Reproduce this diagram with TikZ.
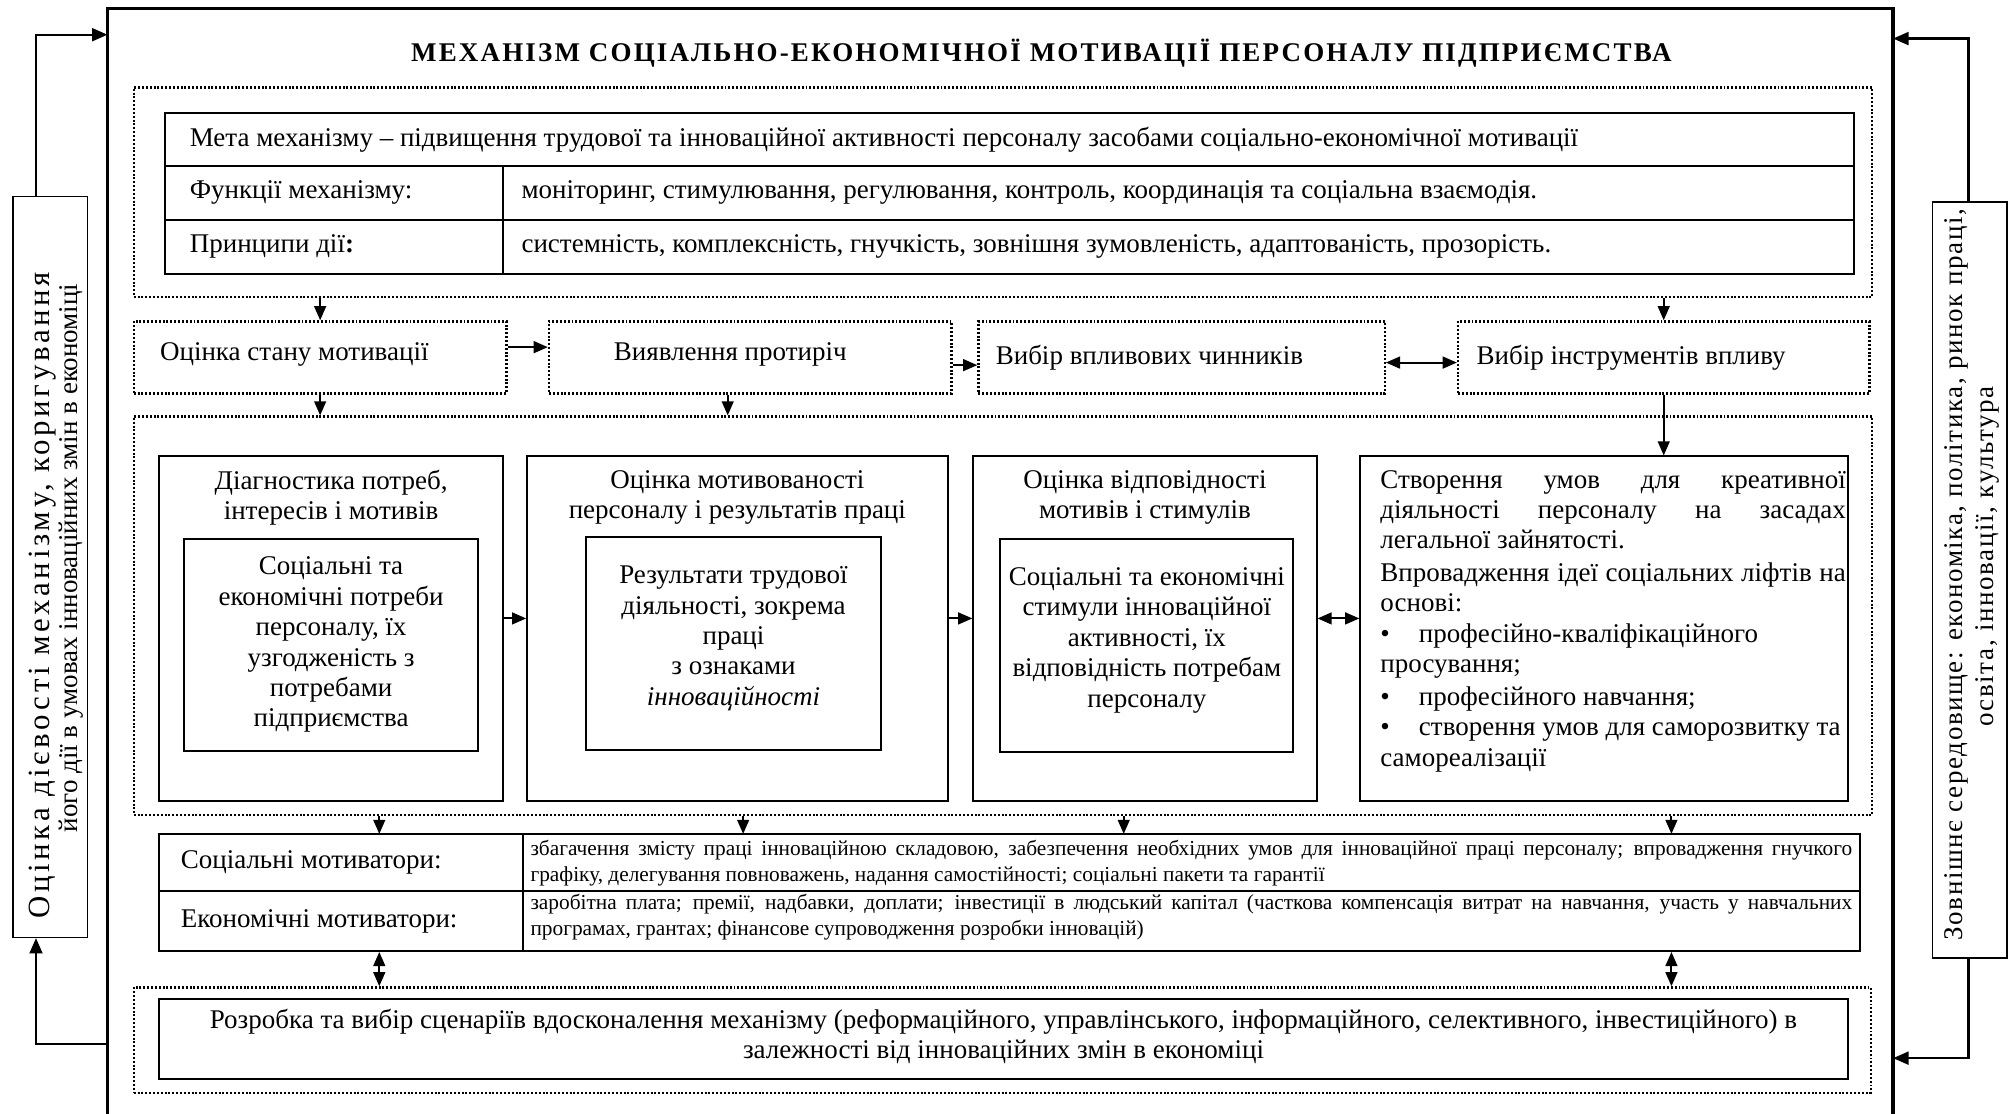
\documentclass[tikz,border=0pt]{standalone}
\usepackage{fontspec}
\setmainfont{Liberation Serif}
\newfontfamily\titlefont{Liberation Serif}[LetterSpace=8]
\newfontfamily\sidefont{Liberation Serif}[LetterSpace=6]
\newfontfamily\sidewidefont{Liberation Serif}[LetterSpace=12]
\usetikzlibrary{fit,arrows.meta}

\begin{document}
\begin{tikzpicture}[x=0.5pt,y=-0.5pt,
  frameline/.style={line width=1.3pt},
  solidbox/.style={draw, line width=0.75pt, inner sep=0pt},
  thinbox/.style={draw, line width=0.6pt, inner sep=0pt},
  dotbox/.style={draw, line width=0.9pt, dash pattern=on 0.75pt off 0.75pt, inner sep=0pt},
  arr/.style={line width=0.75pt, -{Triangle[length=5.5pt,width=4.6pt]}},
  darr/.style={line width=0.75pt, {Triangle[length=5.5pt,width=4.6pt]}-{Triangle[length=5.5pt,width=4.6pt]}},
  sidearr/.style={line width=0.9pt, -{Triangle[length=6pt,width=5pt]}},
  txt/.style={inner sep=0pt, font=\fontsize{10.5}{11.8}\selectfont},
  small/.style={inner sep=0pt, font=\fontsize{8.3}{10}\selectfont},
  side/.style={inner sep=0pt, rotate=90, font=\sidefont\fontsize{10.5}{12}\selectfont},
]
\useasboundingbox (0,0) rectangle (1568,866);

% guide columns and rows for the connectors
\coordinate (gx0) at (566,0);
\coordinate (gx1) at (295,0);
\coordinate (gx2) at (578,0);
\coordinate (gx3) at (874,0);
\coordinate (gx4) at (1300,0);
\coordinate (lx) at (28,0);
\coordinate (rx) at (1531,0);
\coordinate (ly1) at (0,27);
\coordinate (ly2) at (0,812);
\coordinate (ry1) at (0,30);
\coordinate (ry2) at (0,823);

% outer frame, open at the bottom
\node[inner sep=0pt, fit={(84,7)(1472,866)}] (frame) {};
\draw[frameline] (frame.south west) -- (frame.north west) -- (frame.north east) -- (frame.south east);

\node[inner sep=0pt, font=\titlefont\bfseries\fontsize{10.5}{12}\selectfont] (title) at (810,41)
  {МЕХАНІЗМ СОЦІАЛЬНО-ЕКОНОМІЧНОЇ МОТИВАЦІЇ ПЕРСОНАЛУ ПІДПРИЄМСТВА};

% goal, functions, principles
\node[dotbox, fit={(104,68)(1456,231)}] (goalzone) {};
\node[solidbox, fit={(128,88)(1442,129)}] (meta) {};
\node[solidbox, fit={(128,129)(391,171)}] (funl) {};
\node[solidbox, fit={(391,129)(1442,171)}] (funr) {};
\node[solidbox, fit={(128,171)(391,213)}] (prl) {};
\node[solidbox, fit={(391,171)(1442,213)}] (prr) {};
\node[txt, anchor=west] (metat) at ([xshift=10pt]meta.west)
  {Мета механізму – підвищення трудової та інноваційної активності персоналу засобами соціально-економічної мотивації};
\node[txt, anchor=west] (funlt) at ([xshift=10pt]funl.west) {Функції механізму:};
\node[txt, anchor=west] (funrt) at ([xshift=7.5pt]funr.west)
  {моніторинг, стимулювання, регулювання, контроль, координація та соціальна взаємодія.};
\node[txt, anchor=west] (prlt) at ([xshift=10pt]prl.west) {Принципи дії\textbf{:}};
\node[txt, anchor=west] (prrt) at ([xshift=7.5pt]prr.west)
  {системність, комплексність, гнучкість, зовнішня зумовленість, адаптованість, прозорість.};

% stages
\node[dotbox, fit={(104,250)(394,306)}] (st1) {};
\node[dotbox, fit={(427,250)(740,306)}] (st2) {};
\node[dotbox, fit={(761,250)(1077,306)}] (st3) {};
\node[dotbox, fit={(1134,250)(1454,306)}] (st4) {};
\node[txt, anchor=west] (st1t) at ([xshift=10.5pt,yshift=1pt]st1.west) {Оцінка стану мотивації};
\node[txt, anchor=west] (st2t) at ([xshift=25.5pt,yshift=1pt]st2.west) {Виявлення протиріч};
\node[txt, anchor=west] (st3t) at ([xshift=7pt]st3.west) {Вибір впливових чинників};
\node[txt, anchor=west] (st4t) at ([xshift=7.5pt]st4.west) {Вибір інструментів впливу};

% diagnostics zone
\node[dotbox, fit={(104,324)(1456,634)}] (czone) {};
\node[solidbox, fit={(124,355)(391,623)}] (d1) {};
\node[solidbox, fit={(410,355)(737,623)}] (d2) {};
\node[solidbox, fit={(757,355)(1024,623)}] (d3) {};
\node[solidbox, fit={(1058,355)(1437,623)}] (d4) {};
\node[solidbox, fit={(143,419)(372,584)}] (e1) {};
\node[solidbox, fit={(456,418)(685,583)}] (e2) {};
\node[solidbox, fit={(778,419)(1006,585)}] (e3) {};

\node[txt, align=center, anchor=north] (d1h) at ([yshift=-5.5pt]d1.north) {Діагностика потреб,\\інтересів і мотивів};
\node[txt, align=center, anchor=north] (d2h) at ([yshift=-5.5pt]d2.north) {Оцінка мотивованості\\персоналу і результатів праці};
\node[txt, align=center, anchor=north] (d3h) at ([yshift=-5.5pt]d3.north) {Оцінка відповідності\\мотивів і стимулів};

\node[txt, align=center] (e1t) at (e1.center)
  {Соціальні та\\економічні потреби\\персоналу, їх\\узгодженість з\\потребами\\підприємства};
\node[txt, align=center] (e2t) at ([yshift=2pt]e2.center)
  {Результати трудової\\діяльності, зокрема\\праці\\з ознаками\\\textit{інноваційності}};
\node[txt, align=center] (e3t) at ([yshift=2pt]e3.center)
  {Соціальні та економічні\\стимули інноваційної\\активності, їх\\відповідність потребам\\персоналу};

\node[txt, align=left, anchor=north west] (d4t) at ([xshift=8pt,yshift=-5.5pt]d4.north west)
  {\makebox[181pt][s]{Створення умов для креативної}\\
   \makebox[181pt][s]{діяльності персоналу на засадах}\\
   легальної зайнятості.\\[1pt]
   \makebox[181pt][s]{Впровадження ідеї соціальних ліфтів на}\\
   основі:\\
   \makebox[15pt][l]{\textbullet}професійно-кваліфікаційного\\
   просування;\\[1pt]
   \makebox[15pt][l]{\textbullet}професійного навчання;\\
   \makebox[15pt][l]{\textbullet}створення умов для саморозвитку та\\
   самореалізації};

% motivators table
\node[inner sep=0pt, fit={(124,649)(1447,740)}] (mot) {};
\node[solidbox, fit={(124,649)(407,693)}] (soc1) {};
\node[solidbox, fit={(407,649)(1447,693)}] (soc2) {};
\node[solidbox, fit={(124,693)(407,740)}] (eco1) {};
\node[solidbox, fit={(407,693)(1447,740)}] (eco2) {};
\node[txt, anchor=west] (soc1t) at ([xshift=8.5pt]soc1.west) {Соціальні мотиватори:};
\node[txt, anchor=west] (eco1t) at ([xshift=8.5pt]eco1.west) {Економічні мотиватори:};
\node[small, align=left, anchor=north west] (soc2t) at ([xshift=3pt,yshift=-2.5pt]soc2.north west)
  {\makebox[514pt][s]{збагачення змісту праці інноваційною складовою, забезпечення необхідних умов для інноваційної праці персоналу; впровадження гнучкого}\\
   графіку, делегування повноважень, надання самостійності; соціальні пакети та гарантії};
\node[small, align=left, anchor=north west] (eco2t) at ([xshift=3pt,yshift=-1.5pt]eco2.north west)
  {\makebox[514pt][s]{заробітна плата; премії, надбавки, доплати; інвестиції в людський капітал (часткова компенсація витрат на навчання, участь у навчальних}\\
   програмах, грантах; фінансове супроводження розробки інновацій)};

% scenarios
\node[dotbox, fit={(104,768)(1455,850)}] (szone) {};
\node[solidbox, fit={(124,777)(1437,839)}] (scen) {};
\node[txt, align=center] (scent) at ([yshift=1pt]scen.center)
  {Розробка та вибір сценаріїв вдосконалення механізму (реформаційного, управлінського, інформаційного, селективного, інвестиційного) в\\
   залежності від інноваційних змін в економіці};

% side boxes
\node[thinbox, fit={(10,153)(68,729)}] (left) {};
\node[thinbox, fit={(1503,157)(1561,745)}] (right) {};
\node[side, font=\sidewidefont\fontsize{12}{12}\selectfont] (leftt1) at (33,463)
  {Оцінка дієвості механізму, коригування};
\node[side, font=\fontsize{10.5}{12}\selectfont] (leftt2) at (55,434)
  {його дії в умовах інноваційних змін в економіці};
\node[side] (rightt1) at (1522,447) {Зовнішнє середовище: економіка, політика, ринок праці,};
\node[side] (rightt2) at (1546,433) {освіта, інновації, культура};

% connectors
\draw[arr] (goalzone.south -| st1) -- (st1.north);
\draw[arr] (goalzone.south -| st4) -- (st4.north);
\draw[arr] ([yshift=4pt]st1.east) -- ([yshift=4pt]st1.east -| st2.west);
\draw[arr] ([yshift=-3pt]st2.east) -- ([yshift=-3pt]st2.east -| st3.west);
\draw[darr] ([yshift=-2pt]st3.east) -- ([yshift=-2pt]st3.east -| st4.west);
\draw[arr] (st1.south) -- (st1.south |- czone.north);
\draw[arr] (st2.south -| gx0) -- (czone.north -| gx0);
\draw[arr] (st4.south) -- (st4.south |- d4.north);
\draw[arr] ([yshift=4pt]d1.east) -- ([yshift=4pt]d1.east -| d2.west);
\draw[arr] ([yshift=4pt]d2.east) -- ([yshift=4pt]d2.east -| d3.west);
\draw[darr] ([yshift=4pt]d3.east) -- ([yshift=4pt]d3.east -| d4.west);
\foreach \g in {gx1,gx2,gx3,gx4}
  \draw[arr] (czone.south -| \g) -- (mot.north -| \g);
\draw[darr] (mot.south -| gx1) -- (szone.north -| gx1);
\draw[darr] (mot.south -| gx4) -- (szone.north -| gx4);
\draw[sidearr] (left.north -| lx) |- (frame.west |- ly1);
\draw[sidearr] (frame.west |- ly2) -| (left.south -| lx);
\draw[sidearr] (right.north -| rx) |- (frame.east |- ry1);
\draw[sidearr] (right.south -| rx) |- (frame.east |- ry2);
\end{tikzpicture}
\end{document}
